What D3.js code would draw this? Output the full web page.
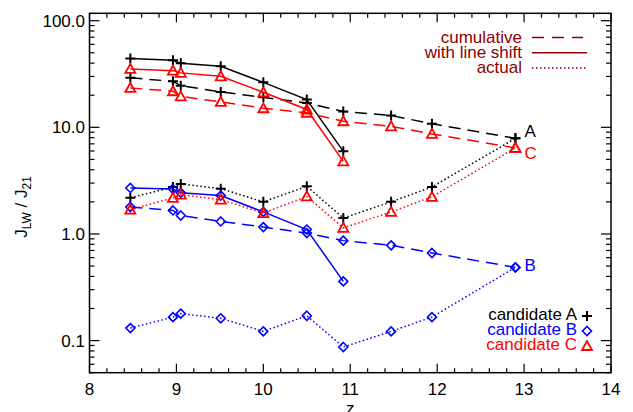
<!DOCTYPE html>
<html>
<head>
<meta charset="utf-8">
<script src="https://cdn.jsdelivr.net/npm/d3@7"></script>
<style>
  html, body { margin: 0; padding: 0; background: #fff; }
  svg { display: block; font-family: "Liberation Sans", Arial, Helvetica, sans-serif; }
</style>
</head>
<body>
<svg id="chart" width="633" height="412"></svg>
<script>
// Redshift of each sample point
const redshift = [8.47, 8.96, 9.05, 9.51, 10.0, 10.5, 10.92, 11.47, 11.94, 12.9];

// Candidate A
const cumulativeA = [29.1, 27.0, 24.6, 21.5, 19.1, 16.9, 14.1, 12.9, 10.8, 7.88];
const shiftA      = [44.1, 42.5, 39.8, 37.3, 26.4, 18.2, 5.95];
const actualA     = [2.18, 2.76, 2.94, 2.66, 2.00, 2.80, 1.41, 2.00, 2.76, 7.88];

// Candidate B
const cumulativeB = [1.79, 1.66, 1.49, 1.31, 1.16, 1.02, 0.866, 0.782, 0.663, 0.486];
const shiftB      = [2.70, 2.64, 2.43, 2.29, 1.61, 1.10, 0.359];
const actualB     = [0.131, 0.166, 0.179, 0.162, 0.122, 0.171, 0.0871, 0.122, 0.166, 0.486];

// Candidate C
const cumulativeC = [23.4, 21.8, 19.5, 17.3, 15.1, 13.7, 11.4, 10.2, 8.67, 6.41];
const shiftC      = [35.3, 34.0, 32.4, 30.1, 21.3, 14.7, 4.8];
const actualC     = [1.69, 2.18, 2.34, 2.10, 1.57, 2.25, 1.14, 1.61, 2.23, 6.41];

const xTicks = [8, 9, 10, 11, 12, 13, 14];
const yTicks = [0.1, 1, 10, 100];
const yTickLabels = ["0.1", "1.0", "10.0", "100.0"];

const candidates = [
  { name: "A", label: "candidate A", color: "#000000", symbol: "plus",
    cumulative: cumulativeA, shift: shiftA, actual: actualA },
  { name: "B", label: "candidate B", color: "#0000ff", symbol: "diamond",
    cumulative: cumulativeB, shift: shiftB, actual: actualB },
  { name: "C", label: "candidate C", color: "#ff0000", symbol: "triangle",
    cumulative: cumulativeC, shift: shiftC, actual: actualC }
];
const DASHED = "12,7", DOTTED = "1.5,2.5";
const styleLegend = [
  { label: "cumulative", dash: DASHED },
  { label: "with line shift", dash: null },
  { label: "actual", dash: DOTTED }
];

const svg = d3.select("#chart");
const plotL = 89.5, plotR = 611, plotT = 13.3, plotB = 372.7;

const x = d3.scaleLinear().domain([8, 14]).range([plotL, plotR]);
const y = d3.scaleLog().domain([0.05, 117.3]).range([plotB, plotT]);

const font = 17;

// Minor ticks
const xMinor = d3.range(8, 14.001, 0.2).filter(v => Math.abs(v - Math.round(v)) > 1e-6);
const yMinor = [];
[0.01, 0.1, 1, 10, 100].forEach(d => {
  for (let k = 2; k <= 9; k++) {
    const v = d * k;
    if (v >= 0.05 && v <= 117.3) yMinor.push(v);
  }
});

const axisG = svg.append("g").attr("class", "axes");

function drawTicks(g, vals, len, side) {
  vals.forEach(v => {
    if (side === "bottom") g.append("line").attr("x1", x(v)).attr("x2", x(v)).attr("y1", plotB).attr("y2", plotB - len);
    if (side === "top") g.append("line").attr("x1", x(v)).attr("x2", x(v)).attr("y1", plotT).attr("y2", plotT + len);
    if (side === "left") g.append("line").attr("x1", plotL).attr("x2", plotL + len).attr("y1", y(v)).attr("y2", y(v));
    if (side === "right") g.append("line").attr("x1", plotR).attr("x2", plotR - len).attr("y1", y(v)).attr("y2", y(v));
  });
}
const tickG = axisG.append("g").attr("stroke", "#000").attr("stroke-width", 1.2);
drawTicks(tickG, xTicks, 9, "bottom");
drawTicks(tickG, xTicks, 9, "top");
drawTicks(tickG, xMinor, 4.5, "bottom");
drawTicks(tickG, xMinor, 4.5, "top");
drawTicks(tickG, yTicks, 10, "left");
drawTicks(tickG, yTicks, 10, "right");
drawTicks(tickG, yMinor, 5, "left");
drawTicks(tickG, yMinor, 5, "right");

axisG.append("rect")
  .attr("x", plotL).attr("y", plotT)
  .attr("width", plotR - plotL).attr("height", plotB - plotT)
  .attr("fill", "none").attr("stroke", "#000").attr("stroke-width", 1.5);

// Tick labels
axisG.selectAll("text.xl").data(xTicks).join("text")
  .attr("class", "xl")
  .attr("x", d => x(d)).attr("y", 395)
  .attr("text-anchor", "middle").attr("font-size", font)
  .text(d => d);

axisG.selectAll("text.yl").data(yTicks).join("text")
  .attr("class", "yl")
  .attr("x", 85).attr("y", d => y(d) + 6)
  .attr("text-anchor", "end").attr("font-size", font)
  .text((d, i) => yTickLabels[i]);

// Axis titles
axisG.append("text")
  .attr("x", (plotL + plotR) / 2).attr("y", 414)
  .attr("text-anchor", "middle").attr("font-size", font)
  .text("z");

const yTitle = axisG.append("text")
  .attr("transform", "translate(27,207) rotate(-90)")
  .attr("text-anchor", "middle").attr("font-size", font);
yTitle.append("tspan").text("J");
yTitle.append("tspan").attr("font-size", 12).attr("dy", 4).text("LW");
yTitle.append("tspan").attr("dy", -4).text(" / J");
yTitle.append("tspan").attr("font-size", 12).attr("dy", 4).text("21");

// Markers
function drawSymbol(g, type, cx, cy, color) {
  if (type === "plus") {
    g.append("path")
      .attr("d", `M${cx - 5},${cy}H${cx + 5}M${cx},${cy - 5}V${cy + 5}`)
      .attr("stroke", color).attr("stroke-width", 2).attr("fill", "none");
  } else if (type === "diamond") {
    g.append("path")
      .attr("d", `M${cx},${cy - 4.5}L${cx + 4.5},${cy}L${cx},${cy + 4.5}L${cx - 4.5},${cy}Z`)
      .attr("stroke", color).attr("stroke-width", 1.6).attr("fill", "none");
  } else {
    g.append("path")
      .attr("d", `M${cx},${cy - 5}L${cx + 5},${cy + 4}L${cx - 5},${cy + 4}Z`)
      .attr("stroke", color).attr("stroke-width", 1.8).attr("fill", "none")
      .attr("stroke-linejoin", "miter");
  }
}

const line = d3.line().x(d => x(d[0])).y(d => y(d[1]));
const plotG = svg.append("g");

candidates.forEach(c => {
  const series = [
    { vals: c.cumulative, dash: DASHED },
    { vals: c.shift, dash: null },
    { vals: c.actual, dash: DOTTED }
  ];
  series.forEach(s => {
    const pts = s.vals.map((v, i) => [redshift[i], v]);
    plotG.append("path")
      .datum(pts)
      .attr("d", line)
      .attr("fill", "none")
      .attr("stroke", c.color)
      .attr("stroke-width", 1.5)
      .attr("stroke-dasharray", s.dash);
    pts.forEach(p => drawSymbol(plotG, c.symbol, x(p[0]), y(p[1]), c.color));
  });
});

// End labels
const endIdx = redshift.length - 1;
const endOffsets = { A: -1, B: 4, C: 11 };
candidates.forEach(c => {
  svg.append("text")
    .attr("x", x(redshift[endIdx]) + 9)
    .attr("y", y(c.cumulative[endIdx]) + endOffsets[c.name])
    .attr("font-size", font).attr("fill", c.color)
    .text(c.name);
});

// Line-style legend
const legColor = "#8b0000";
const lg = svg.append("g");
styleLegend.forEach((d, i) => {
  const yy = 42.5 + i * 15.3;
  lg.append("text")
    .attr("x", 522).attr("y", yy)
    .attr("text-anchor", "end").attr("font-size", font).attr("fill", legColor)
    .text(d.label);
  lg.append("line")
    .attr("x1", 532).attr("x2", d.dash === DASHED ? 583 : 587)
    .attr("y1", yy - 5).attr("y2", yy - 5)
    .attr("stroke", legColor).attr("stroke-width", 1.5)
    .attr("stroke-dasharray", d.dash === DASHED ? "12,8" : d.dash);
});

// Candidate legend
const cg = svg.append("g");
candidates.forEach((c, i) => {
  const yy = 320 + i * 15;
  cg.append("text")
    .attr("x", 577).attr("y", yy)
    .attr("text-anchor", "end").attr("font-size", font).attr("fill", c.color)
    .text(c.label);
  drawSymbol(cg, c.symbol, 587, yy - 4, c.color);
});
</script>
</body>
</html>
